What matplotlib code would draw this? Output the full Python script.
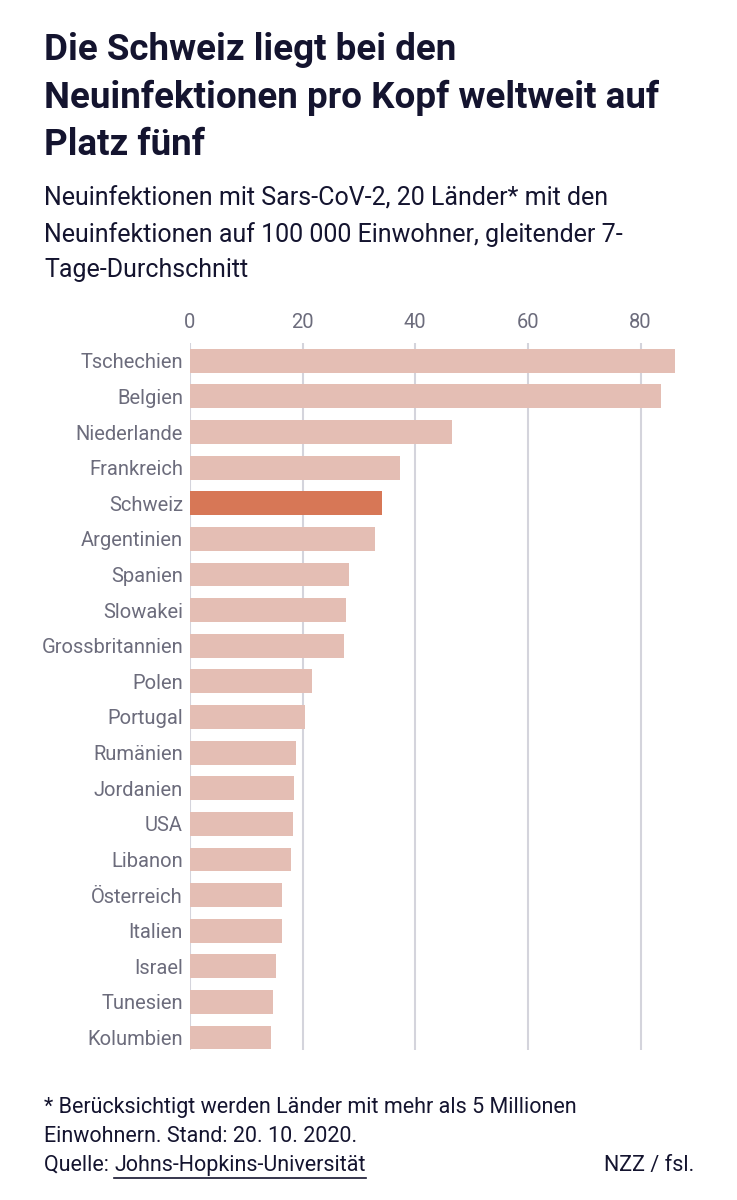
import matplotlib.pyplot as plt
from matplotlib.lines import Line2D

countries = ['Tschechien', 'Belgien', 'Niederlande', 'Frankreich', 'Schweiz',
             'Argentinien', 'Spanien', 'Slowakei', 'Grossbritannien', 'Polen',
             'Portugal', 'Rumänien', 'Jordanien', 'USA', 'Libanon',
             'Österreich', 'Italien', 'Israel', 'Tunesien', 'Kolumbien']
values = [86.2, 83.7, 46.5, 37.2, 34.1,
          32.9, 28.3, 27.7, 27.4, 21.7,
          20.4, 18.8, 18.5, 18.2, 17.9,
          16.3, 16.3, 15.3, 14.7, 14.4]
highlight = 'Schweiz'
x_ticks = [0, 20, 40, 60, 80]

title_lines = ['Die Schweiz liegt bei den',
               'Neuinfektionen pro Kopf weltweit auf',
               'Platz fünf']
subtitle_lines = ['Neuinfektionen mit Sars-CoV-2, 20 Länder* mit den',
                  'Neuinfektionen auf 100 000 Einwohner, gleitender 7-',
                  'Tage-Durchschnitt']

W, H = 737, 1200
NAVY = '#14142f'
GRAY = '#6c6c7c'
BAR = '#e4beb4'
BAR_HI = '#d77756'
GRID = '#d4d4dc'

plt.rcParams['font.family'] = ['Roboto', 'DejaVu Sans']

fig = plt.figure(figsize=(W / 100, H / 100), dpi=100)


def fy(px):
    return 1 - px / H


# axes area in pixels: left 190, right 680, top 343, bottom 1050
ax = fig.add_axes([190 / W, fy(1050), (680 - 190) / W, (1050 - 343) / H])

colors = [BAR_HI if c == highlight else BAR for c in countries]
ypos = list(range(len(countries)))
ax.barh(ypos, values, height=0.67, color=colors, zorder=2)

ax.set_xlim(0, 87)
ax.set_ylim(19.35, -0.5)
ax.set_xticks(x_ticks)
ax.set_xticklabels([str(t) for t in x_ticks])
ax.xaxis.tick_top()
ax.tick_params(axis='x', length=0, pad=8, labelsize=14.5, labelcolor=GRAY)
ax.set_yticks(ypos)
ax.set_yticklabels(countries)
ax.tick_params(axis='y', length=0, pad=5, labelsize=14.5, labelcolor=GRAY)
ax.grid(axis='x', color=GRID, linewidth=1.5, zorder=0)
for s in ax.spines.values():
    s.set_visible(False)

# title
for i, line in enumerate(title_lines):
    fig.text(44 / W, fy(50 + i * 47.5), line, fontsize=26.5, fontweight='bold',
             color=NAVY, va='center', ha='left')

# subtitle
for i, line in enumerate(subtitle_lines):
    fig.text(44 / W, fy(199 + i * 35.5), line, fontsize=18,
             color=NAVY, va='center', ha='left')

# footnote
fs = 15.5
fig.text(44 / W, fy(1108), '* Berücksichtigt werden Länder mit mehr als 5 Millionen',
         fontsize=fs, color=NAVY, va='center')
fig.text(44 / W, fy(1136), 'Einwohnern. Stand: 20. 10. 2020.',
         fontsize=fs, color=NAVY, va='center')
q = fig.text(44 / W, fy(1165), 'Quelle: ', fontsize=fs, color=NAVY, va='center')
fig.canvas.draw()
bb = q.get_window_extent()
src = fig.text(bb.x1 / W, fy(1165), 'Johns-Hopkins-Universität',
               fontsize=fs, color=NAVY, va='center')
fig.canvas.draw()
sb = src.get_window_extent()
fig.add_artist(Line2D([sb.x0 / W, sb.x1 / W], [fy(1178), fy(1178)],
                      color=NAVY, linewidth=1.2, transform=fig.transFigure))
fig.text(694 / W, fy(1165), 'NZZ / fsl.', fontsize=fs, color=NAVY,
         va='center', ha='right')

fig.savefig('out.png', dpi=100, facecolor='white')
